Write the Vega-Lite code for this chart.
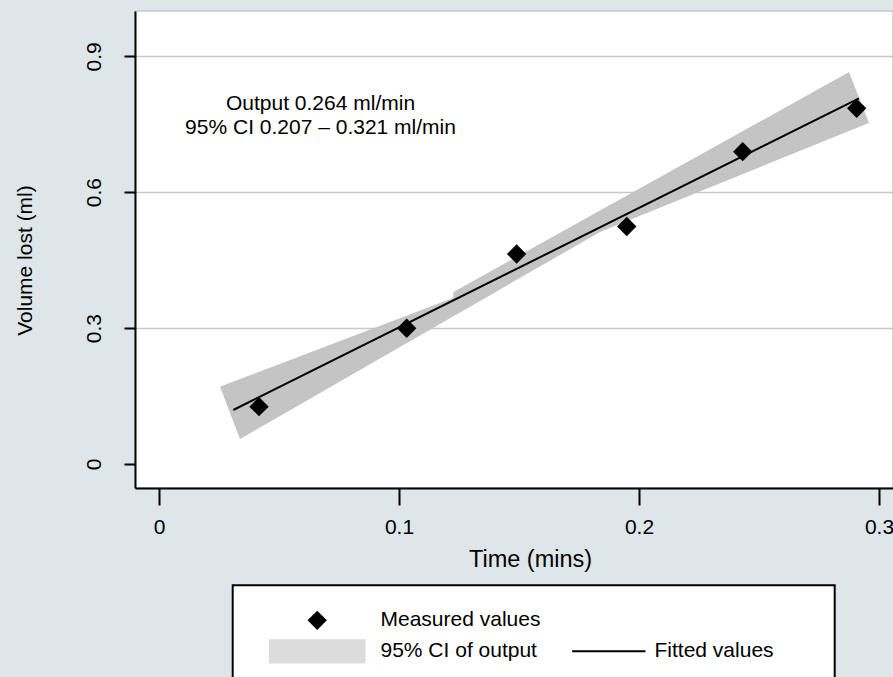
{
  "$schema": "https://vega.github.io/schema/vega-lite/v6.json",
  "autosize": {"type": "none"},
  "width": 758,
  "height": 477,
  "padding": {"left": 135, "top": 11, "right": 0, "bottom": 189},
  "background": "#dfe6ea",
  "config": {
    "font": "Liberation Sans",
    "view": {"fill": "white", "stroke": "#c8c8c8", "strokeWidth": 1.5},
    "legend": {"strokeWidth": 2}
  },
  "layer": [
    {
      "encoding": {
        "x": {
          "field": "x", "type": "quantitative",
          "scale": {"domain": [-0.01, 0.30583], "nice": false, "zero": false},
          "axis": {
            "title": "Time (mins)", "values": [0, 0.1, 0.2, 0.3],
            "labelExpr": "datum.value === 0 ? '0' : format(datum.value, '.1f')",
            "domainColor": "black", "domainWidth": 2,
            "tickColor": "black", "tickWidth": 2, "tickSize": 17,
            "labelFontSize": 21, "labelColor": "black", "labelPadding": 28,
            "labelBaseline": "alphabetic", "labelFlush": false, "labelOverlap": false,
            "titleFontSize": 23.5, "titleFontWeight": "normal", "titleColor": "black",
            "titleX": 395, "titleY": 78, "titleBaseline": "alphabetic", "titleAlign": "center",
            "grid": false
          }
        },
        "y": {
          "field": "y", "type": "quantitative",
          "scale": {"domain": [-0.053, 1.0], "nice": false, "zero": false},
          "axis": {
            "title": "Volume lost (ml)", "values": [0, 0.3, 0.6, 0.9],
            "labelExpr": "datum.value === 0 ? '0' : format(datum.value, '.1f')",
            "domainColor": "black", "domainWidth": 2,
            "tickColor": "black", "tickWidth": 2, "tickSize": 11,
            "labelFontSize": 21, "labelColor": "black", "labelPadding": 24,
            "labelAngle": -90, "labelAlign": "center", "labelBaseline": "alphabetic",
            "labelFlush": false, "labelOverlap": false,
            "grid": true,
            "gridColor": {"condition": {"test": "datum.value === 0", "value": "transparent"}, "value": "#c8c8c8"},
            "gridWidth": 1.5,
            "titleFontSize": 21, "titleFontWeight": "normal", "titleColor": "black",
            "titleAngle": -90, "titleX": -104, "titleY": 249, "titleBaseline": "alphabetic", "titleAlign": "center"
          }
        }
      },
      "layer": [
        {
          "data": {"values": [
            {"x": 0.02542, "y": 0.1706, "y2": 0.1706},
            {"x": 0.03375, "y": 0.1874, "y2": 0.0552},
            {"x": 0.1225, "y": 0.3664, "y2": 0.3256},
            {"x": 0.12271, "y": 0.3797, "y2": 0.3263},
            {"x": 0.18375, "y": 0.5596, "y2": 0.5121},
            {"x": 0.2875, "y": 0.8653, "y2": 0.7349},
            {"x": 0.29583, "y": 0.7528, "y2": 0.7528}
          ]},
          "mark": {"type": "area", "color": "#c4c4c4", "opacity": 1},
          "encoding": {"y2": {"field": "y2"}}
        },
        {
          "data": {"values": [
            {"x": 0.03096, "y": 0.1192},
            {"x": 0.29167, "y": 0.8073}
          ]},
          "mark": {"type": "line", "color": "black", "strokeWidth": 2}
        },
        {
          "data": {"values": [
            {"x": 0.04167, "y": 0.1265, "series": "Measured values"},
            {"x": 0.1032, "y": 0.2996, "series": "Measured values"},
            {"x": 0.149, "y": 0.4636, "series": "Measured values"},
            {"x": 0.1949, "y": 0.5243, "series": "Measured values"},
            {"x": 0.2432, "y": 0.6894, "series": "Measured values"},
            {"x": 0.2907, "y": 0.7852, "series": "Measured values"}
          ]},
          "mark": {"type": "point", "filled": true, "size": 9350, "opacity": 1},
          "encoding": {
            "color": {
              "field": "series", "type": "nominal",
              "scale": {
                "domain": ["Measured values", "95% CI of output", "~", "Fitted values"],
                "range": ["black", "#dcdcdc", "transparent", "black"]
              },
              "legend": {
                "title": "I", "titleOrient": "left", "titleFontSize": 10, "titlePadding": 12, "titleColor": "white",
                "orient": "none", "legendX": 97.7, "legendY": 574.3, "direction": "vertical",
                "columns": 2, "columnPadding": 1, "rowPadding": 1, "clipHeight": 30,
                "padding": 20, "strokeColor": "black", "fillColor": "white",
                "symbolSize": 9350, "symbolStrokeWidth": 2,
                "labelFontSize": 21, "labelFont": "Liberation Sans", "labelColor": "black",
                "labelOpacity": {"expr": "datum.value === '~' ? 0 : 1"},
                "labelOffset": 13.8, "labelLimit": 400,
                "labelExpr": "datum.value === '~' ? 'Measured values' : datum.label"
              }
            },
            "shape": {
              "field": "series", "type": "nominal",
              "scale": {
                "domain": ["Measured values", "95% CI of output", "~", "Fitted values"],
                "range": ["M0,-0.2L0.2,0L0,0.2L-0.2,0Z", "M-1,-0.251H1V0.251H-1Z", "M0,0", "M-0.393,-0.021H1.123V0.021H-0.393Z"]
              },
              "legend": {
                "title": "I", "titleOrient": "left", "titleFontSize": 10, "titlePadding": 12, "titleColor": "white",
                "orient": "none", "legendX": 97.7, "legendY": 574.3, "direction": "vertical",
                "columns": 2, "columnPadding": 1, "rowPadding": 1, "clipHeight": 30,
                "padding": 20, "strokeColor": "black", "fillColor": "white",
                "symbolSize": 9350, "symbolStrokeWidth": 2,
                "labelFontSize": 21, "labelFont": "Liberation Sans", "labelColor": "black",
                "labelOpacity": {"expr": "datum.value === '~' ? 0 : 1"},
                "labelOffset": 13.8, "labelLimit": 400,
                "labelExpr": "datum.value === '~' ? 'Measured values' : datum.label"
              }
            }
          }
        }
      ]
    },
    {
      "data": {"values": [{"note": ["Output 0.264 ml/min", "95% CI 0.207 – 0.321 ml/min"]}]},
      "mark": {
        "type": "text",
        "fontSize": 21, "lineHeight": 24.7, "align": "center", "baseline": "alphabetic", "color": "black"
      },
      "encoding": {
        "x": {"datum": 0.0673, "type": "quantitative"},
        "y": {"datum": 0.7825, "type": "quantitative"},
        "text": {"field": "note"}
      }
    }
  ]
}
